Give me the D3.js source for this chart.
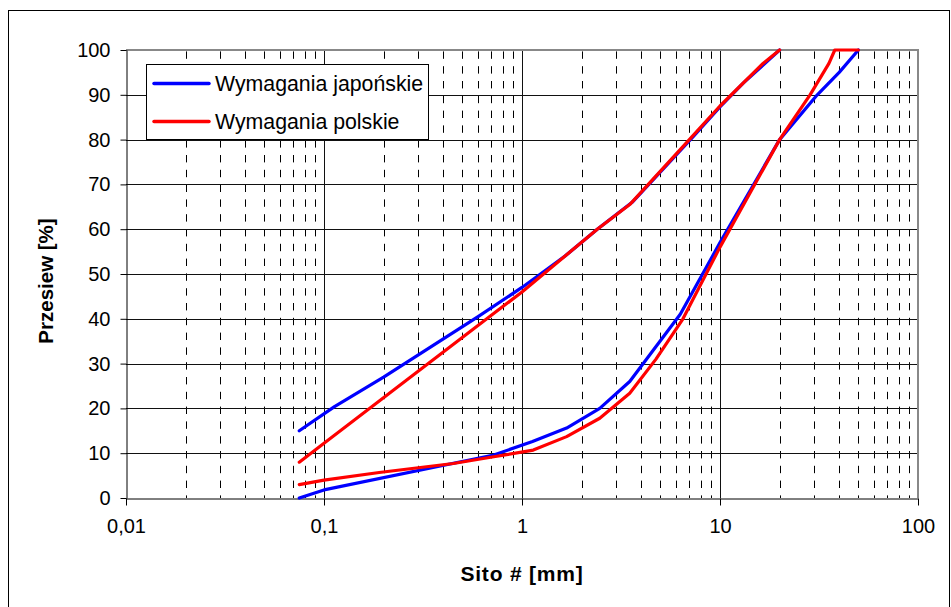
<!DOCTYPE html>
<html><head><meta charset="utf-8">
<script src="https://cdn.jsdelivr.net/npm/d3@7"></script>
<style>body{margin:0;background:#fff}svg text{font-family:Arial,"Liberation Sans",sans-serif}</style>
</head><body>
<svg id="chart" width="951" height="607"></svg>
<script>
// ---- data ----
const seriesNames = ["Wymagania japońskie", "Wymagania polskie"];
const seriesColors = ["#0000ff", "#ff0000"];
// Japanese requirements (upper and lower grading limits)
const japUpperSieve = [0.075, 0.113, 0.2, 0.6, 1, 1.65, 2.4, 3.6, 7.3, 10, 13.1, 20];
const japUpperPass  = [15, 20.4, 27, 40.5, 47, 54, 60, 66, 80.6, 87.3, 92.6, 100];
const japLowerSieve = [0.075, 0.1, 0.72, 1.13, 1.68, 2.47, 3.5, 6.3, 10, 20, 31, 40, 50];
const japLowerPass  = [0, 1.8, 9.6, 12.6, 15.6, 20, 26, 41, 57, 80, 90, 95, 100];
// Polish requirements (upper and lower grading limits)
const polUpperSieve = [0.075, 0.1, 1, 2.4, 3.5, 7, 10, 16.5, 20];
const polUpperPass  = [8, 12.2, 46, 60, 65.5, 80, 87.5, 97, 100];
const polLowerSieve = [0.075, 0.1, 0.19, 0.45, 0.72, 1.14, 1.68, 2.47, 3.5, 4.75, 6.5, 10, 20, 28.5, 35.5, 38, 50];
const polLowerPass  = [3, 4, 5.7, 7.7, 9.2, 10.7, 13.7, 17.8, 23.4, 31, 40, 56, 80, 90, 97, 100, 100];

const xTickValues = [0.01, 0.1, 1, 10, 100];
const xTickLabels = ["0,01", "0,1", "1", "10", "100"];
const yTickValues = [0, 10, 20, 30, 40, 50, 60, 70, 80, 90, 100];
const xTitle = "Sito # [mm]";
const yTitle = "Przesiew  [%]";

// ---- chart ----
const svg = d3.select("#chart");
const L = 126, R = 918, T = 50, B = 498;
const x = d3.scaleLog().domain([0.01, 100]).range([L, R]);
const y = d3.scaleLinear().domain([0, 100]).range([B, T]);

svg.append("rect").attr("width", 951).attr("height", 607).attr("fill", "#fff");
svg.append("rect").attr("x", 8.5).attr("y", 10.5).attr("width", 941).attr("height", 640)
  .attr("fill", "none").attr("stroke", "#000").attr("stroke-width", 1);

// minor dashed vertical gridlines
const minor = x.ticks().filter(v => Math.abs(Math.log10(v) - Math.round(Math.log10(v))) > 1e-6);
svg.append("g").selectAll("line").data(minor).join("line")
  .attr("x1", d => Math.round(x(d)) + 0.5).attr("x2", d => Math.round(x(d)) + 0.5)
  .attr("y1", B).attr("y2", T)
  .attr("stroke", "#000").attr("stroke-width", 1)
  .attr("stroke-dasharray", "7.4,7.4").attr("stroke-dashoffset", 4.8);

// horizontal gridlines
svg.append("g").selectAll("line").data(yTickValues.filter(v => v > 0 && v < 100)).join("line")
  .attr("x1", L).attr("x2", R)
  .attr("y1", d => Math.round(y(d)) + 0.5).attr("y2", d => Math.round(y(d)) + 0.5)
  .attr("stroke", "#111").attr("stroke-width", 1);

// major vertical gridlines
svg.append("g").selectAll("line").data(xTickValues.slice(1, -1)).join("line")
  .attr("x1", d => Math.round(x(d)) + 0.5).attr("x2", d => Math.round(x(d)) + 0.5)
  .attr("y1", B).attr("y2", T)
  .attr("stroke", "#111").attr("stroke-width", 1);

// top/right gray border
svg.append("path").attr("d", `M${L},${T}H${R}V${B}`)
  .attr("fill", "none").attr("stroke", "#888").attr("stroke-width", 2);

// axes
const yAxis = d3.axisLeft(y).tickValues(yTickValues).tickSize(6).tickSizeOuter(0).tickPadding(10);
const gy = svg.append("g").attr("transform", `translate(${L + 0.5},0)`).call(yAxis);
const xAxis = d3.axisBottom(x).tickValues(xTickValues)
  .tickFormat((d, i) => xTickLabels[i]).tickSize(7).tickSizeOuter(0).tickPadding(13);
const gx = svg.append("g").attr("transform", `translate(0,${B + 0.5})`).call(xAxis);
[gx, gy].forEach(g => {
  g.selectAll("path.domain").attr("stroke", "#000");
  g.selectAll(".tick line").attr("stroke", "#000");
  g.selectAll("text").attr("font-size", 20).attr("fill", "#000")
    .attr("font-family", "Arial, 'Liberation Sans', sans-serif");
});

// series lines
const line = d3.line().x(d => x(d[0])).y(d => y(d[1]));
const zipS = (a, b) => a.map((v, i) => [v, b[i]]);
const series = [
  {c: 0, pts: zipS(japUpperSieve, japUpperPass)},
  {c: 0, pts: zipS(japLowerSieve, japLowerPass)},
  {c: 1, pts: zipS(polUpperSieve, polUpperPass)},
  {c: 1, pts: zipS(polLowerSieve, polLowerPass)}
];
svg.append("g").selectAll("path").data(series).join("path")
  .attr("d", d => line(d.pts)).attr("fill", "none")
  .attr("stroke", d => seriesColors[d.c]).attr("stroke-width", 3.2)
  .attr("stroke-linejoin", "round").attr("stroke-linecap", "round");

// legend
const lg = svg.append("g");
lg.append("rect").attr("x", 146.5).attr("y", 64.5).attr("width", 282).attr("height", 75)
  .attr("fill", "#fff").attr("stroke", "#000").attr("stroke-width", 1);
seriesNames.forEach((n, i) => {
  const yy = 83.5 + i * 38;
  lg.append("line").attr("x1", 154).attr("x2", 209).attr("y1", yy).attr("y2", yy)
    .attr("stroke", seriesColors[i]).attr("stroke-width", 3.5).attr("stroke-linecap", "round");
  lg.append("text").attr("x", 215).attr("y", yy).attr("dy", "0.35em")
    .attr("font-size", 21.3).attr("fill", "#000").text(n);
});

// titles
svg.append("text").attr("x", 522).attr("y", 581).attr("text-anchor", "middle")
  .attr("font-size", 21).attr("font-weight", "bold").attr("letter-spacing", "0.8px").text(xTitle);
svg.append("text").attr("transform", "translate(53,281) rotate(-90)").attr("text-anchor", "middle")
  .attr("font-size", 20.5).attr("font-weight", "bold").text(yTitle);
</script>
</body></html>
